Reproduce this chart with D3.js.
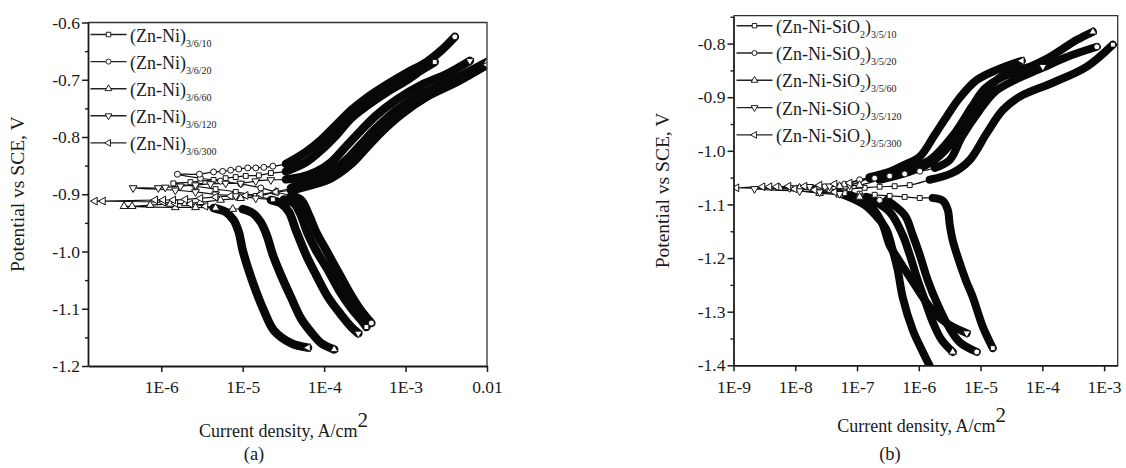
<!DOCTYPE html>
<html>
<head>
<meta charset="utf-8">
<script src="https://cdn.jsdelivr.net/npm/d3@7"></script>
<style>
  body { margin: 0; background: #fff; }
  svg { display: block; }
  text { font-family: "Liberation Serif", "Times New Roman", Times, serif; fill: #1a1a1a; }
</style>
</head>
<body>
<svg width="1126" height="468"></svg>
<script>
// points are [log10(current density, A/cm2), potential V vs SCE]
// cath: cathodic band from its start to its end, marks: single markers near Ecorr
// (cathodic side -> Ecorr -> anodic side), anod: anodic band from its start to its end

// ---- panel (a) (Zn-Ni)
const aZn10 = {
  cath: [[-4.494,-0.909],[-4.370,-0.916],[-4.284,-0.937],[-4.210,-0.966],[-4.099,-0.998],[-3.951,-1.033],[-3.815,-1.068],[-3.667,-1.099],[-3.543,-1.120],[-3.481,-1.132]],
  marks: [[-4.630,-0.909],[-4.840,-0.903],[-5.086,-0.896],[-5.333,-0.891],[-5.580,-0.886],[-5.852,-0.881],[-5.642,-0.879],[-5.519,-0.877],[-5.358,-0.875],[-5.210,-0.872],[-5.086,-0.870],[-4.963,-0.868],[-4.802,-0.867],[-4.654,-0.863]],
  anod: [[-4.469,-0.860],[-4.222,-0.844],[-4.037,-0.823],[-3.852,-0.797],[-3.667,-0.767],[-3.481,-0.746],[-3.235,-0.722],[-2.988,-0.701],[-2.802,-0.683],[-2.642,-0.669]]
};
const aZn20 = {
  cath: [[-4.407,-0.903],[-4.284,-0.910],[-4.185,-0.937],[-4.099,-0.966],[-3.975,-0.998],[-3.827,-1.036],[-3.691,-1.071],[-3.568,-1.099],[-3.469,-1.117],[-3.420,-1.125]],
  marks: [[-4.593,-0.896],[-4.778,-0.889],[-5.025,-0.882],[-5.272,-0.877],[-5.519,-0.872],[-5.802,-0.865],[-5.531,-0.865],[-5.358,-0.861],[-5.247,-0.860],[-5.148,-0.858],[-5.049,-0.856],[-4.938,-0.854],[-4.840,-0.854],[-4.741,-0.853],[-4.630,-0.851]],
  anod: [[-4.469,-0.847],[-4.222,-0.826],[-4.037,-0.805],[-3.852,-0.779],[-3.667,-0.753],[-3.481,-0.732],[-3.235,-0.709],[-2.988,-0.688],[-2.741,-0.669],[-2.556,-0.648],[-2.395,-0.625]]
};
const aZn60 = {
  cath: [[-5.000,-0.926],[-4.877,-0.933],[-4.778,-0.949],[-4.704,-0.972],[-4.630,-1.006],[-4.531,-1.041],[-4.407,-1.080],[-4.284,-1.117],[-4.160,-1.141],[-4.037,-1.160],[-3.877,-1.171]],
  marks: [[-5.123,-0.926],[-5.333,-0.924],[-5.580,-0.923],[-5.827,-0.923],[-6.457,-0.921],[-6.358,-0.921],[-6.136,-0.919],[-5.889,-0.917],[-5.704,-0.916],[-5.519,-0.914],[-5.272,-0.910],[-5.025,-0.907],[-4.802,-0.903],[-4.593,-0.896]],
  anod: [[-4.407,-0.889],[-4.160,-0.875],[-3.914,-0.861],[-3.728,-0.840],[-3.543,-0.812],[-3.358,-0.784],[-3.111,-0.753],[-2.802,-0.725],[-2.432,-0.701],[-2.0,-0.669]]
};
const aZn120 = {
  cath: [[-4.654,-0.910],[-4.531,-0.916],[-4.432,-0.931],[-4.346,-0.963],[-4.222,-1.006],[-4.099,-1.041],[-3.951,-1.080],[-3.790,-1.111],[-3.667,-1.132],[-3.580,-1.143]],
  marks: [[-4.840,-0.907],[-5.086,-0.903],[-5.333,-0.900],[-5.580,-0.896],[-5.827,-0.893],[-6.346,-0.889],[-6.037,-0.889],[-5.951,-0.888],[-5.765,-0.886],[-5.580,-0.884],[-5.395,-0.882],[-5.210,-0.881],[-5.025,-0.881],[-4.840,-0.877],[-4.654,-0.875]],
  anod: [[-4.469,-0.874],[-4.284,-0.870],[-4.099,-0.861],[-3.914,-0.844],[-3.728,-0.816],[-3.543,-0.788],[-3.358,-0.762],[-3.111,-0.735],[-2.802,-0.709],[-2.494,-0.690],[-2.210,-0.667]]
};
const aZn300 = {
  cath: [[-5.358,-0.924],[-5.210,-0.931],[-5.111,-0.945],[-5.049,-0.966],[-5.000,-0.998],[-4.926,-1.033],[-4.840,-1.068],[-4.741,-1.103],[-4.617,-1.138],[-4.407,-1.160],[-4.198,-1.168]],
  marks: [[-5.457,-0.921],[-5.642,-0.917],[-5.827,-0.916],[-5.975,-0.914],[-6.815,-0.912],[-6.716,-0.912],[-6.074,-0.910],[-5.975,-0.910],[-5.852,-0.910],[-5.704,-0.909],[-5.519,-0.907],[-5.333,-0.905],[-5.148,-0.903],[-4.963,-0.902],[-4.778,-0.900],[-4.593,-0.896]],
  anod: [[-4.407,-0.893],[-4.160,-0.884],[-3.914,-0.872],[-3.667,-0.847],[-3.481,-0.819],[-3.296,-0.791],[-3.049,-0.760],[-2.741,-0.730],[-2.370,-0.704],[-2.0,-0.674]]
};

// ---- panel (b) (Zn-Ni-SiO2)
const bZn10 = {
  cath: [[-5.775,-1.088],[-5.613,-1.093],[-5.532,-1.110],[-5.499,-1.138],[-5.451,-1.167],[-5.370,-1.198],[-5.240,-1.241],[-5.126,-1.273],[-4.964,-1.328],[-4.802,-1.368]],
  marks: [[-5.985,-1.088],[-6.229,-1.086],[-6.472,-1.084],[-6.715,-1.082],[-6.958,-1.080],[-7.201,-1.079],[-7.444,-1.073],[-7.120,-1.071],[-6.877,-1.069],[-6.634,-1.067],[-6.391,-1.066],[-6.147,-1.064]],
  anod: [[-5.823,-1.054],[-5.451,-1.041],[-5.175,-1.017],[-4.900,-0.967],[-4.640,-0.924],[-4.365,-0.899],[-3.830,-0.873],[-3.279,-0.843],[-2.858,-0.802]]
};
const bZn20 = {
  cath: [[-6.520,-1.092],[-6.229,-1.120],[-6.099,-1.157],[-5.985,-1.194],[-5.856,-1.241],[-5.694,-1.287],[-5.532,-1.325],[-5.337,-1.357],[-5.062,-1.375]],
  marks: [[-6.634,-1.092],[-6.958,-1.086],[-7.282,-1.080],[-7.606,-1.075],[-7.930,-1.069],[-7.525,-1.067],[-7.201,-1.062],[-6.958,-1.054],[-6.715,-1.051],[-6.472,-1.047],[-6.229,-1.043],[-5.985,-1.038]],
  anod: [[-5.742,-1.032],[-5.499,-1.017],[-5.305,-0.974],[-5.013,-0.924],[-4.770,-0.890],[-4.446,-0.868],[-3.992,-0.845],[-3.603,-0.825],[-3.117,-0.806]]
};
const bZn60 = {
  cath: [[-6.844,-1.086],[-6.472,-1.114],[-6.261,-1.157],[-6.147,-1.194],[-6.018,-1.241],[-5.904,-1.278],[-5.775,-1.319],[-5.629,-1.353],[-5.451,-1.375]],
  marks: [[-6.958,-1.086],[-7.282,-1.082],[-7.606,-1.079],[-8.254,-1.069],[-7.930,-1.069],[-7.606,-1.067],[-7.282,-1.066],[-6.958,-1.064]],
  anod: [[-6.634,-1.054],[-6.147,-1.039],[-5.742,-1.017],[-5.337,-0.967],[-5.062,-0.918],[-4.851,-0.881],[-4.575,-0.855],[-4.203,-0.843],[-3.878,-0.825],[-3.441,-0.793],[-3.182,-0.778]]
};
const bZn120 = {
  cath: [[-7.120,-1.082],[-6.796,-1.101],[-6.601,-1.133],[-6.472,-1.176],[-6.358,-1.198],[-6.099,-1.244],[-5.823,-1.291],[-5.580,-1.319],[-5.224,-1.340]],
  marks: [[-7.282,-1.080],[-7.606,-1.077],[-7.930,-1.075],[-8.660,-1.071],[-8.092,-1.069],[-7.768,-1.067],[-7.444,-1.066],[-7.120,-1.064]],
  anod: [[-6.796,-1.051],[-6.472,-1.043],[-6.147,-1.032],[-5.823,-1.017],[-5.418,-0.967],[-5.142,-0.918],[-4.932,-0.884],[-4.640,-0.862],[-4.284,-0.849],[-3.992,-0.843]]
};
const bZn300 = {
  cath: [[-7.282,-1.079],[-6.877,-1.101],[-6.634,-1.129],[-6.520,-1.148],[-6.423,-1.185],[-6.342,-1.222],[-6.261,-1.273],[-6.099,-1.334],[-5.953,-1.371],[-5.775,-1.412]],
  marks: [[-7.363,-1.077],[-7.687,-1.073],[-8.011,-1.071],[-8.951,-1.069],[-8.530,-1.067],[-8.417,-1.067],[-8.303,-1.067],[-8.109,-1.066],[-7.849,-1.066],[-7.606,-1.064],[-7.363,-1.062],[-7.120,-1.060]],
  anod: [[-6.796,-1.049],[-6.472,-1.039],[-6.229,-1.026],[-5.985,-1.011],[-5.742,-0.970],[-5.532,-0.933],[-5.337,-0.901],[-5.062,-0.868],[-4.737,-0.849],[-4.332,-0.832]]
};

const legendA = ['3/6/10', '3/6/20', '3/6/60', '3/6/120', '3/6/300'];
const legendB = ['3/5/10', '3/5/20', '3/5/60', '3/5/120', '3/5/300'];

const xTicksA = [1e-6, 1e-5, 1e-4, 1e-3, 1e-2];
const xLabelsA = ['1E-6', '1E-5', '1E-4', '1E-3', '0.01'];
const xTicksB = [1e-9, 1e-8, 1e-7, 1e-6, 1e-5, 1e-4, 1e-3];
const xLabelsB = ['1E-9', '1E-8', '1E-7', '1E-6', '1E-5', '1E-4', '1E-3'];
const yTicksA = [-1.2, -1.1, -1.0, -0.9, -0.8, -0.7, -0.6];
const yMinorA = [-1.15, -1.05, -0.95, -0.85, -0.75, -0.65];
const yTicksB = [-1.4, -1.3, -1.2, -1.1, -1.0, -0.9, -0.8];
const yMinorB = [-1.35, -1.25, -1.15, -1.05, -0.95, -0.85, -0.75];

const serif = '"Liberation Serif", "Times New Roman", Times, serif';
const svg = d3.select('svg');

// marker shape for each series, same order as legend
const shapes = [
  { type: d3.symbolSquare, rot: 0, size: 24 },
  { type: d3.symbolCircle, rot: 0, size: 28 },
  { type: d3.symbolTriangle, rot: 0, size: 26 },
  { type: d3.symbolTriangle, rot: 180, size: 26 },
  { type: d3.symbolTriangle, rot: -90, size: 26 }
];

const panels = [
  {
    id: 'a', left: 88, right: 487, top: 22.5, bottom: 366,
    xDomain: [10 ** -6.9, 1e-2], yDomain: [-1.2, -0.6],
    xTicks: xTicksA, xLabels: xLabelsA, yTicks: yTicksA, yMinor: yMinorA,
    series: [aZn10, aZn20, aZn60, aZn120, aZn300],
    legend: legendA, legendX: 90.5, legendY: 34.5, legendStep: 27.1,
    band: 8.5, yTitleX: 24, xTitleY: 436.5, capX: 254, sio2: false
  },
  {
    id: 'b', left: 733.5, right: 1117.7, top: 15.7, bottom: 365.3,
    xDomain: [1e-9, 10 ** -2.78], yDomain: [-1.4, -0.748],
    xTicks: xTicksB, xLabels: xLabelsB, yTicks: yTicksB, yMinor: yMinorB,
    series: [bZn10, bZn20, bZn60, bZn120, bZn300],
    legend: legendB, legendX: 736.5, legendY: 25.7, legendStep: 27.3,
    band: 8, yTitleX: 669, xTitleY: 432, capX: 890, sio2: true
  }
];

const render = p => {
  const xScale = d3.scaleLog().domain(p.xDomain).range([p.left, p.right]);
  const yScale = d3.scaleLinear().domain(p.yDomain).range([p.bottom, p.top]);
  const xValue = d => xScale(10 ** d[0]);
  const yValue = d => yScale(d[1]);

  const g = svg.append('g');

  g.append('clipPath').attr('id', 'clip-' + p.id)
    .append('rect')
      .attr('x', p.left).attr('y', p.top)
      .attr('width', p.right - p.left).attr('height', p.bottom - p.top);

  const plot = g.append('g').attr('clip-path', `url(#clip-${p.id})`);
  const line = d3.line().x(xValue).y(yValue).curve(d3.curveCatmullRom.alpha(0.5));

  // thin connecting line, then the dense (banded) branches
  p.series.forEach(s => {
    plot.append('path')
      .attr('d', line([...s.cath].reverse().concat(s.marks, s.anod)))
      .attr('fill', 'none').attr('stroke', '#111').attr('stroke-width', 1.2);
    [s.cath, s.anod].forEach(b => {
      plot.append('path')
        .attr('d', line(b))
        .attr('fill', 'none').attr('stroke', '#080808')
        .attr('stroke-width', p.band).attr('stroke-linecap', 'round');
    });
  });

  // hollow markers near Ecorr and at the branch ends
  p.series.forEach((s, i) => {
    const sh = shapes[i];
    const pts = s.marks.concat([s.cath[s.cath.length - 1], s.anod[s.anod.length - 1]]);
    plot.selectAll(null).data(pts).enter().append('path')
      .attr('d', d3.symbol(sh.type, sh.size))
      .attr('transform', d => `translate(${xValue(d)},${yValue(d)}) rotate(${sh.rot})`)
      .attr('fill', '#fff').attr('stroke', '#111').attr('stroke-width', 1);
  });

  // frame (top + right)
  g.append('path')
    .attr('d', `M${p.left},${p.top}H${p.right}V${p.bottom}`)
    .attr('fill', 'none').attr('stroke', '#333').attr('stroke-width', 1.3);

  // axes
  const xAxis = d3.axisBottom(xScale)
    .tickValues(p.xTicks)
    .tickFormat((d, i) => p.xLabels[i])
    .tickSize(6).tickSizeOuter(0).tickPadding(9);
  const xAxisG = g.append('g')
    .attr('transform', `translate(0,${p.bottom})`)
    .call(xAxis)
    .attr('font-size', 17.5).attr('font-family', serif).attr('color', '#1a1a1a');
  xAxisG.select('.domain').attr('stroke-width', 1.8);
  xAxisG.selectAll('.tick line').attr('stroke-width', 1.5);

  const yAxis = d3.axisLeft(yScale)
    .tickValues(p.yTicks)
    .tickFormat(d => d.toFixed(1))
    .tickSize(6).tickSizeOuter(0).tickPadding(2);
  const yAxisG = g.append('g')
    .attr('transform', `translate(${p.left},0)`)
    .call(yAxis)
    .attr('font-size', 17.5).attr('font-family', serif).attr('color', '#1a1a1a');
  yAxisG.select('.domain').attr('stroke-width', 1.8);
  yAxisG.selectAll('.tick line').attr('stroke-width', 1.5);

  const yMinorG = g.append('g')
    .attr('transform', `translate(${p.left},0)`)
    .call(d3.axisLeft(yScale).tickValues(p.yMinor).tickFormat('').tickSize(3).tickSizeOuter(0))
    .attr('color', '#1a1a1a');
  yMinorG.select('.domain').remove();
  yMinorG.selectAll('.tick line').attr('stroke-width', 1.4);

  // axis titles
  const midY = (p.top + p.bottom) / 2;
  g.append('text')
    .attr('transform', `translate(${p.yTitleX},${midY}) rotate(-90)`)
    .attr('text-anchor', 'middle')
    .attr('font-size', 19.5)
    .text('Potential vs SCE, V');

  const xTitle = g.append('text')
    .attr('x', (p.left + p.right) / 2 - 4).attr('y', p.xTitleY)
    .attr('text-anchor', 'middle')
    .attr('font-size', 18);
  xTitle.append('tspan').text('Current density, A/cm');
  xTitle.append('tspan').attr('dy', -10).attr('font-size', 21).text('2');

  g.append('text')
    .attr('x', p.capX).attr('y', 460)
    .attr('text-anchor', 'middle')
    .attr('font-size', 18.5)
    .text(`(${p.id})`);

  // legend
  p.legend.forEach((lab, i) => {
    const ly = p.legendY + i * p.legendStep;
    const sh = shapes[i];
    g.append('line')
      .attr('x1', p.legendX).attr('x2', p.legendX + 36)
      .attr('y1', ly).attr('y2', ly)
      .attr('stroke', '#222').attr('stroke-width', 1.4);
    g.append('path')
      .attr('d', d3.symbol(sh.type, 20))
      .attr('transform', `translate(${p.legendX + 18},${ly}) rotate(${sh.rot})`)
      .attr('fill', '#fff').attr('stroke', '#222').attr('stroke-width', 1);
    const t = g.append('text')
      .attr('x', p.legendX + 39.5).attr('y', ly + 7)
      .attr('font-size', 18);
    if (p.sio2) {
      t.append('tspan').text('(Zn-Ni-SiO');
      t.append('tspan').attr('dy', 5).attr('font-size', 10).text('2');
      t.append('tspan').attr('dy', -5).text(')');
      t.append('tspan').attr('dy', 5).attr('font-size', 10).text(lab);
    } else {
      t.append('tspan').text('(Zn-Ni)');
      t.append('tspan').attr('dy', 5).attr('font-size', 10).text(lab);
    }
  });
};

panels.forEach(render);
svg.selectAll('text').style('font-family', serif);
</script>
</body>
</html>
